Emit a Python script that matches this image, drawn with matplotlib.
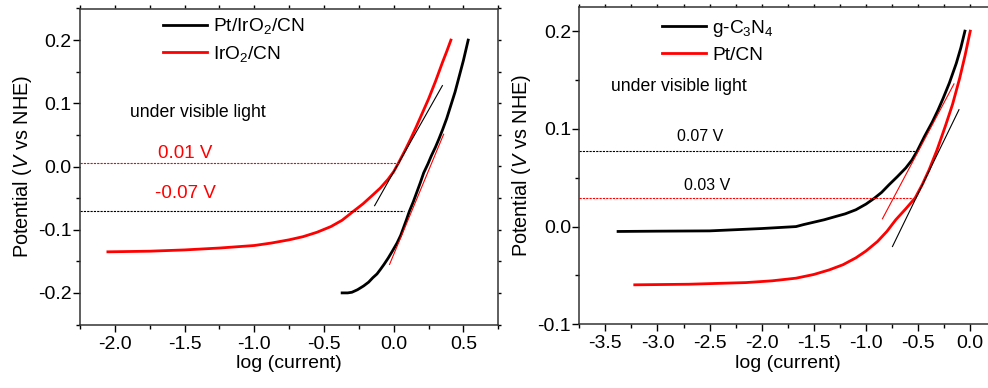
import matplotlib
matplotlib.use("Agg")
import matplotlib.pyplot as plt
from matplotlib.ticker import MultipleLocator

plt.rcParams['font.family'] = ['Liberation Sans', 'DejaVu Sans']
plt.rcParams['mathtext.fontset'] = 'custom'
plt.rcParams['mathtext.rm'] = 'Liberation Sans'
plt.rcParams['mathtext.it'] = 'Liberation Sans:italic'
plt.rcParams['mathtext.default'] = 'regular'
plt.rcParams['axes.unicode_minus'] = False

# ---------------- Left panel data ----------------
pt_iro2_cn_x = [-0.37, -0.33, -0.30, -0.26, -0.216, -0.18, -0.15, -0.12, -0.096, -0.07,
                -0.04, -0.01, 0.024, 0.05, 0.07, 0.09, 0.112, 0.14, 0.165, 0.19, 0.215,
                0.245, 0.27, 0.30, 0.323, 0.35, 0.38, 0.41, 0.44, 0.47, 0.50, 0.534]
pt_iro2_cn_y = [-0.2, -0.2, -0.199, -0.195, -0.189, -0.183, -0.176, -0.170, -0.163, -0.155,
                -0.145, -0.134, -0.121, -0.109, -0.097, -0.085, -0.071, -0.056, -0.041,
                -0.026, -0.010, 0.004, 0.017, 0.031, 0.043, 0.058, 0.076, 0.097, 0.118,
                0.143, 0.168, 0.2]
iro2_cn_x = [-2.05, -1.75, -1.5, -1.25, -1.0, -0.875, -0.75, -0.65, -0.55, -0.45, -0.37,
             -0.29, -0.22, -0.15, -0.096, -0.04, 0.0, 0.035, 0.08, 0.12, 0.16, 0.2, 0.25,
             0.3, 0.35, 0.38, 0.41]
iro2_cn_y = [-0.135, -0.134, -0.132, -0.129, -0.125, -0.121, -0.116, -0.111, -0.104, -0.095,
             -0.085, -0.071, -0.059, -0.045, -0.034, -0.020, -0.008, 0.006, 0.025, 0.043,
             0.062, 0.082, 0.107, 0.135, 0.165, 0.182, 0.2]
left_tan_black_x = [-0.137, 0.349]
left_tan_black_y = [-0.062, 0.128]
left_tan_red_x = [-0.03, 0.358]
left_tan_red_y = [-0.155, 0.051]
left_level_red = 0.006
left_level_red_end = 0.035
left_level_black = -0.071
left_level_black_end = 0.076

# ---------------- Right panel data ----------------
gc3n4_x = [-3.378, -3.0, -2.5, -2.0, -1.671, -1.6, -1.512, -1.4, -1.288, -1.2, -1.097,
           -1.0, -0.92, -0.85, -0.778, -0.7, -0.618, -0.56, -0.507, -0.44, -0.364, -0.31,
           -0.261, -0.2, -0.134, -0.09, -0.051]
gc3n4_y = [-0.005, -0.0047, -0.0044, -0.002, 0.0, 0.002, 0.0042, 0.007, 0.0104, 0.013,
           0.0172, 0.023, 0.029, 0.035, 0.0429, 0.051, 0.060, 0.068, 0.0777, 0.092, 0.107,
           0.119, 0.131, 0.147, 0.167, 0.183, 0.2]
pt_cn_x = [-3.218, -2.7, -2.15, -1.9, -1.671, -1.5, -1.352, -1.22, -1.097, -1.0, -0.89,
           -0.8, -0.714, -0.62, -0.529, -0.46, -0.395, -0.32, -0.261, -0.235, -0.17,
           -0.101, -0.05, 0.0]
pt_cn_y = [-0.0596, -0.059, -0.0573, -0.0555, -0.0528, -0.049, -0.0443, -0.039, -0.032,
           -0.025, -0.0153, -0.005, 0.007, 0.018, 0.0292, 0.043, 0.058, 0.078, 0.096,
           0.104, 0.125, 0.152, 0.175, 0.2]
right_tan_red_x = [-0.842, -0.156]
right_tan_red_y = [0.008, 0.146]
right_tan_black_x = [-0.746, -0.108]
right_tan_black_y = [-0.0204, 0.1196]
right_level_black = 0.0777
right_level_black_end = -0.523
right_level_red = 0.0292
right_level_red_end = -0.539

W, H = 988, 388
fig = plt.figure(figsize=(W / 100, H / 100), dpi=100)

def style_axes(ax, xmaj, xmin, ymaj, ymin):
    ax.xaxis.set_major_locator(MultipleLocator(xmaj))
    ax.xaxis.set_minor_locator(MultipleLocator(xmin))
    ax.yaxis.set_major_locator(MultipleLocator(ymaj))
    ax.yaxis.set_minor_locator(MultipleLocator(ymin))
    ax.tick_params(which='major', direction='out', length=5, width=1, labelsize=14)
    ax.tick_params(axis='x', which='major', pad=3)
    ax.tick_params(axis='y', which='major', pad=1)
    ax.tick_params(which='minor', direction='out', length=3, width=1)
    for s in ax.spines.values():
        s.set_linewidth(1.1)
        s.set_color('#333333')
    for side in ('top', 'right'):
        if side == 'top':
            sec = ax.secondary_xaxis('top')
            axis = sec.xaxis
            axis.set_major_locator(MultipleLocator(xmin))
        else:
            sec = ax.secondary_yaxis('right')
            axis = sec.yaxis
            axis.set_major_locator(MultipleLocator(ymin))
        sec.tick_params(direction='out', length=2, width=1, labelsize=0,
                        labeltop=False, labelright=False)
        for s in sec.spines.values():
            s.set_visible(False)

# Left axes
ax1 = fig.add_axes([80 / W, 1 - 324.5 / H, 418.3 / W, 316 / H])
ax1.set_xlim(-2.25, 0.75)
ax1.set_ylim(-0.25, 0.25)
style_axes(ax1, 0.5, 0.25, 0.1, 0.05)
ax1.plot(pt_iro2_cn_x, pt_iro2_cn_y, color='black', lw=2, label='Pt/IrO$_2$/CN')
ax1.plot(iro2_cn_x, iro2_cn_y, color='red', lw=2, label='IrO$_2$/CN')
ax1.plot(left_tan_black_x, left_tan_black_y, color='black', lw=0.8)
ax1.plot(left_tan_red_x, left_tan_red_y, color='red', lw=0.8)
ax1.plot([-2.25, left_level_red_end], [left_level_red] * 2, color='red', lw=0.8,
         ls=(0, (2, 1)))
ax1.plot([-2.25, left_level_black_end], [left_level_black] * 2, color='black', lw=0.8,
         ls=(0, (2, 1)))
ax1.text(-1.89, 0.086, 'under visible light', fontsize=12.7, va='center', ha='left')
ax1.text(-1.69, 0.021, '0.01 V', fontsize=13.5, color='red', va='center', ha='left')
ax1.text(-1.71, -0.043, '-0.07 V', fontsize=13.5, color='red', va='center', ha='left')
ax1.set_xlabel('log (current)', fontsize=14, labelpad=2)
ax1.set_ylabel('Potential ($\\mathit{V}$ vs NHE)', fontsize=14.3, labelpad=3)
ax1.legend(loc='upper left', bbox_to_anchor=(0.198, 0.975), frameon=False, fontsize=13.8,
           handlelength=2.3, handletextpad=0.3, labelspacing=0.4, borderpad=0,
           borderaxespad=0)

# Right axes
ax2 = fig.add_axes([579.3 / W, 1 - 324.3 / H, 417 / W, 317.6 / H])
ax2.set_xlim(-3.75, 0.25)
ax2.set_ylim(-0.1, 0.225)
style_axes(ax2, 0.5, 0.25, 0.1, 0.05)
ax2.plot(gc3n4_x, gc3n4_y, color='black', lw=2, label='g-C$_3$N$_4$')
ax2.plot(pt_cn_x, pt_cn_y, color='red', lw=2, label='Pt/CN')
ax2.plot(right_tan_red_x, right_tan_red_y, color='red', lw=0.8)
ax2.plot(right_tan_black_x, right_tan_black_y, color='black', lw=0.8)
ax2.plot([-3.75, right_level_black_end], [right_level_black] * 2, color='black', lw=0.8,
         ls=(0, (2, 1)))
ax2.plot([-3.75, right_level_red_end], [right_level_red] * 2, color='red', lw=0.8,
         ls=(0, (2, 1)))
ax2.text(-3.45, 0.143, 'under visible light', fontsize=12.7, va='center', ha='left')
ax2.text(-2.81, 0.092, '0.07 V', fontsize=11.5, color='black', va='center', ha='left')
ax2.text(-2.75, 0.042, '0.03 V', fontsize=11.5, color='black', va='center', ha='left')
ax2.set_xlabel('log (current)', fontsize=14, labelpad=2)
ax2.set_ylabel('Potential ($\\mathit{V}$ vs NHE)', fontsize=14.3, labelpad=3)
ax2.legend(loc='upper left', bbox_to_anchor=(0.199, 0.965), frameon=False, fontsize=13.8,
           handlelength=2.3, handletextpad=0.3, labelspacing=0.4, borderpad=0,
           borderaxespad=0)

fig.savefig('out.png', dpi=100)
